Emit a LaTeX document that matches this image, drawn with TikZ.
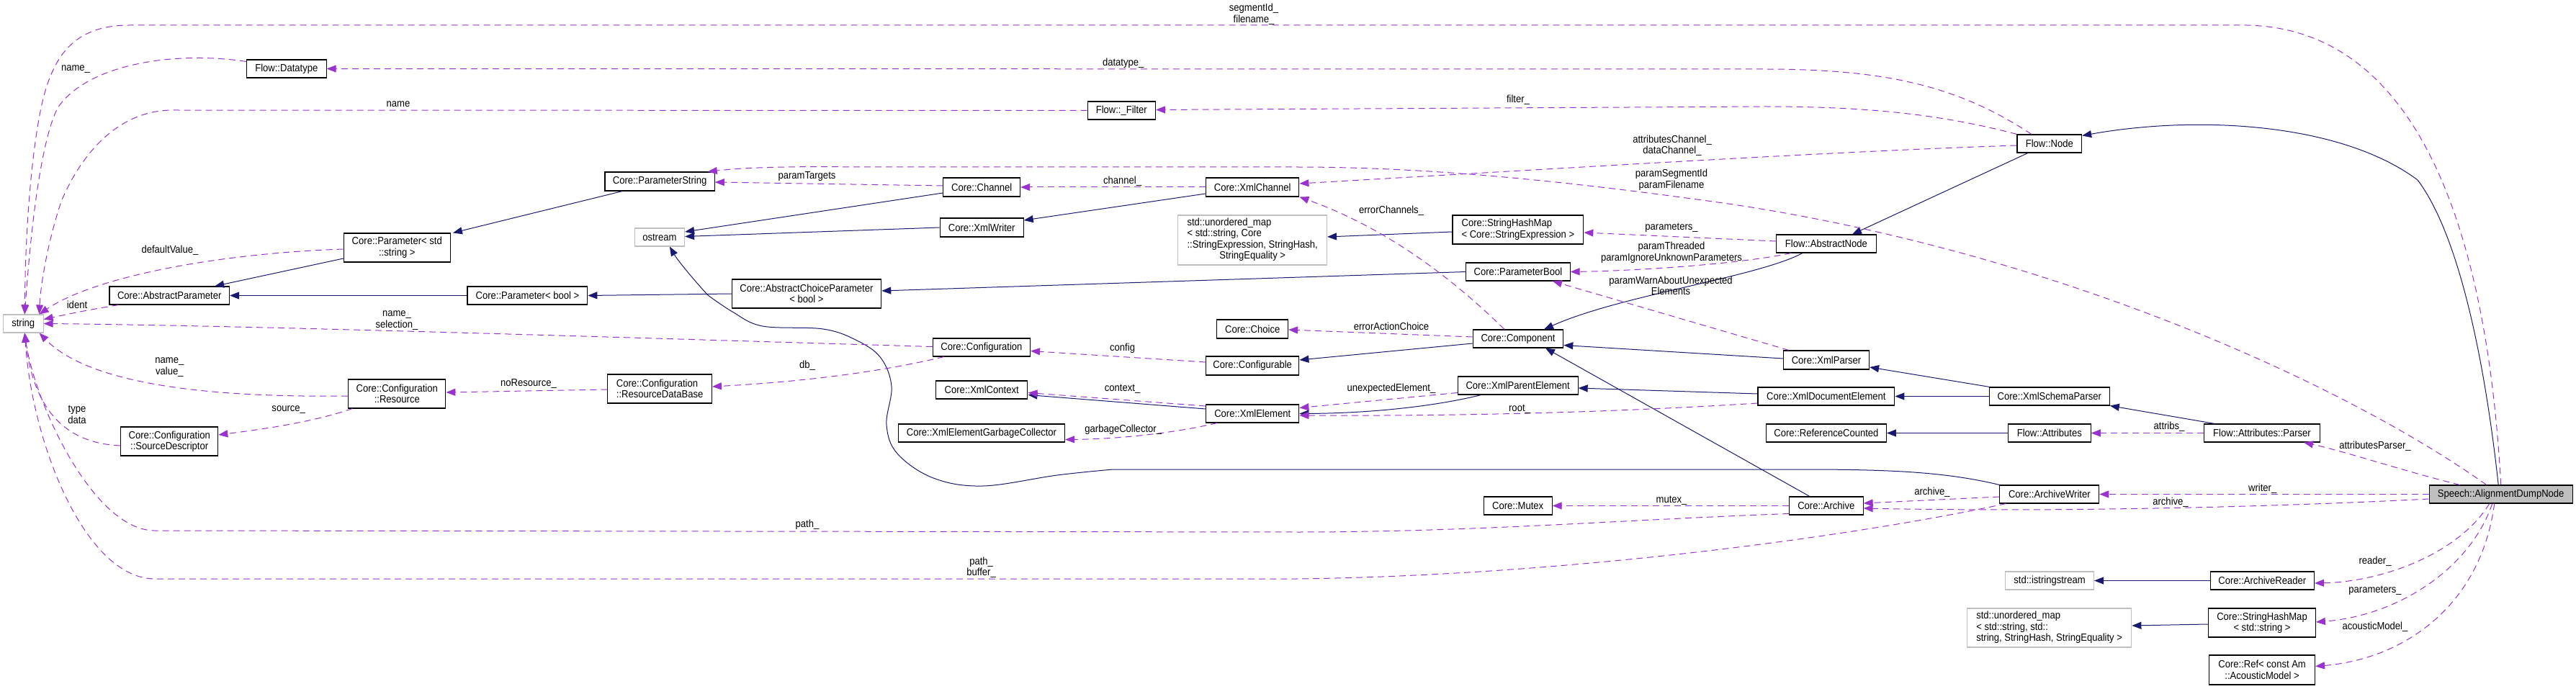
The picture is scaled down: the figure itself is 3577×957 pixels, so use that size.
\documentclass[tikz,border=0pt]{standalone}
\usepackage{fontspec}
\setmainfont{Liberation Sans}[FakeStretch=0.9]
\usetikzlibrary{arrows.meta, calc}
\newcommand\dgfont{\fontsize{14.5pt}{15.5pt}\selectfont}
\definecolor{inhblue}{HTML}{191970}
\definecolor{usepurple}{HTML}{9A32CD}
\definecolor{extgray}{HTML}{BFBFBF}

\begin{document}
\begin{tikzpicture}[x=1pt, y=-1pt,
  box/.style  ={draw=black, line width=1.1pt, rectangle, inner sep=0pt,
                minimum height=25pt, align=center, font=\dgfont},
  gbox/.style ={box, draw=extgray},
  focus/.style={box, fill=extgray},
  inh/.style  ={-{Triangle[length=13pt,width=10pt]}, line width=1pt, color=inhblue},
  dep/.style  ={-{Triangle[length=13pt,width=10pt]}, line width=1pt, color=usepurple,
                dash pattern=on 9pt off 6pt},
  lbl/.style  ={font=\dgfont, inner sep=0pt, align=center, text=black},
]
\useasboundingbox (0,0) rectangle (3577,957);

%% ---- Nodes ----
\node[gbox, minimum width=55.5pt]  (string)     at (32.3,449.5)   {string};
\node[box, minimum width=110.6pt]  (Datatype)   at (397.8,95.5)   {Flow::Datatype};
\node[box, minimum width=166.5pt]  (AbsParam)   at (235.2,410.5)  {Core::AbstractParameter};
\node[box, minimum width=148.1pt, minimum height=40pt] (ParStd) at (551.3,344) {Core::Parameter< std\\::string >};
\node[box, minimum width=152.3pt, minimum height=26pt] (ParString) at (916.1,252) {Core::ParameterString};
\node[gbox, minimum width=69.3pt]  (ostream)    at (915.9,329.5)  {ostream};
\node[box, minimum width=166.8pt]  (ParBool)    at (732.4,410.5)  {Core::Parameter< bool >};
\node[box, minimum width=207.7pt, minimum height=40pt] (AbsChoice) at (1119.9,408) {Core::AbstractChoiceParameter\\< bool >};
\node[box, minimum width=94.5pt]   (Filter)     at (1557.3,153.5) {Flow::\_Filter};
\node[box, minimum width=106.8pt, minimum height=26pt] (Channel)    at (1363.2,260) {Core::Channel};
\node[box, minimum width=129.3pt, minimum height=26pt] (XmlChannel) at (1739.2,260) {Core::XmlChannel};
\node[box, minimum width=116pt,   minimum height=26pt] (XmlWriter)  at (1363.2,316) {Core::XmlWriter};
\node[gbox, minimum width=206.6pt, minimum height=69pt] (umapExpr) at (1739.2,333.5)
  {\begin{tabular}{@{}l@{}}std::unordered\_map\\< std::string, Core\\::StringExpression, StringHash,\\\multicolumn{1}{@{}c@{}}{StringEquality >}\end{tabular}};
\node[box, minimum width=98.7pt, minimum height=26pt] (Choice) at (1739.2,457) {Core::Choice};
\node[box, minimum width=181.8pt, minimum height=40pt, align=left] (StrHashExpr) at (2107.9,319) {Core::StringHashMap\\< Core::StringExpression >};
\node[box, minimum width=144.3pt]  (PBool)      at (2107.9,377.5) {Core::ParameterBool};
\node[box, minimum width=125.5pt]  (Component)  at (2108,470.5)   {Core::Component};
\node[box, minimum width=89.6pt]   (FlowNode)   at (2845.8,199.5) {Flow::Node};
\node[box, minimum width=138.5pt]  (AbsNode)    at (2535.9,338.5) {Flow::AbstractNode};
\node[box, minimum width=135.1pt, minimum height=40pt] (Resource) at (551.3,547) {Core::Configuration\\::Resource};
\node[box, minimum width=135.1pt, minimum height=40pt] (SrcDesc)  at (235.2,613) {Core::Configuration\\::SourceDescriptor};
\node[box, minimum width=144.6pt, minimum height=40pt, align=left] (ResDB) at (916.1,540) {Core::Configuration\\::ResourceDataBase};
\node[box, minimum width=135.1pt]  (Config)     at (1362.9,482.5) {Core::Configuration};
\node[box, minimum width=129.3pt, minimum height=26pt] (Configurable) at (1739.2,508) {Core::Configurable};
\node[box, minimum width=129.3pt]  (XmlElement) at (1739.2,574.5) {Core::XmlElement};
\node[box, minimum width=127.4pt]  (XmlContext) at (1363.2,541.5) {Core::XmlContext};
\node[box, minimum width=231.1pt]  (GarbColl)   at (1363,601.5)   {Core::XmlElementGarbageCollector};
\node[box, minimum width=166.8pt]  (XmlParent)  at (2107.7,535.5) {Core::XmlParentElement};
\node[box, minimum width=94.9pt]   (Mutex)      at (2107.7,702.5) {Core::Mutex};
\node[box, minimum width=119pt, minimum height=26pt] (XmlParser) at (2536,500) {Core::XmlParser};
\node[box, minimum width=189.8pt]  (XmlDocElem) at (2535.9,550.5) {Core::XmlDocumentElement};
\node[box, minimum width=166.9pt]  (XmlSchema)  at (2845.8,550.5) {Core::XmlSchemaParser};
\node[box, minimum width=166.9pt]  (RefCounted) at (2535.9,601.5) {Core::ReferenceCounted};
\node[box, minimum width=114.8pt]  (Attributes) at (2845.8,601.5) {Flow::Attributes};
\node[box, minimum width=137.8pt]  (ArchWriter) at (2845.8,686.5) {Core::ArchiveWriter};
\node[box, minimum width=102.6pt]  (Archive)    at (2535.8,702.5) {Core::Archive};
\node[gbox, minimum width=122.9pt] (isstream)   at (2846,806.5)   {std::istringstream};
\node[gbox, minimum width=228.5pt, minimum height=54pt] (umapStr) at (2845.6,872)
  {\begin{tabular}{@{}l@{}}std::unordered\_map\\< std::string, std::\\string, StringHash, StringEquality >\end{tabular}};
\node[box, minimum width=160.5pt]  (AttrParser) at (3141,601.5)   {Flow::Attributes::Parser};
\node[focus, minimum width=199pt]  (Speech)     at (3472.7,686.5) {Speech::AlignmentDumpNode};
\node[box, minimum width=144.2pt]  (ArchReader) at (3141.3,806.5) {Core::ArchiveReader};
\node[box, minimum width=148.7pt, minimum height=40pt] (StrHashStr) at (3141,865) {Core::StringHashMap\\< std::string >};
\node[box, minimum width=146.8pt, minimum height=41pt] (RefAM) at (3141.1,930.5) {Core::Ref< const Am\\::AcousticModel >};

%% ---- Inheritance ----
\draw[inh] ($(ParStd.west)+(0,15)$) -- ($(AbsParam.north)+(63,0)$);
\draw[inh] (ParBool.west) -- (AbsParam.east);
\draw[inh] ($(ParString.south)+(-52,0)$) -- ($(ParStd.north east)+(3,0)$);
\draw[inh] (AbsChoice.west) -- (ParBool.east);
\draw[inh] (PBool.west) -- ($(AbsChoice.east)+(0,-4)$);
\draw[inh] ($(Channel.west)+(0,8)$) -- ($(ostream.east)+(0,-7.5)$);
\draw[inh] (XmlWriter.west) -- ($(ostream.east)+(0,-1)$);
\draw[inh] ($(XmlChannel.west)+(0,9)$) -- ($(XmlWriter.east)+(0,-10)$);
\draw[inh] ($(StrHashExpr.west)+(0,3)$) -- ($(umapExpr.east)+(0,-4.5)$);
\draw[inh] ($(AbsNode.south)+(-33,0)$) .. controls (2440,385) and (2250,410) .. ($(Component.north)+(36,0)$);
\draw[inh] ($(FlowNode.south)+(-30,0)$) -- ($(AbsNode.north)+(36,0)$);
\draw[inh] ($(Speech.north)+(-3.5,0)$) .. controls (3448,480) and (3410,320) .. (3357,250)
  .. controls (3250,170) and (3050,160) .. ($(FlowNode.north east)+(0,2)$);
\draw[inh] ($(XmlParser.west)+(0,-2)$) -- ($(Component.east)+(0,9)$);
\draw[inh] ($(Component.west)+(0,6.5)$) -- ($(Configurable.east)+(0,-8)$);
\draw[inh] ($(Archive.north)+(-23,0)$) -- ($(Component.south)+(38,0)$);
\draw[inh] ($(XmlElement.west)+(0,-6.5)$) -- ($(XmlContext.east)+(0,7)$);
\draw[inh] ($(XmlParent.south)+(-51,0)$) .. controls (1990,565) and (1900,574) .. (XmlElement.east);
\draw[inh] ($(XmlDocElem.west)+(0,-3.5)$) -- ($(XmlParent.east)+(0,3.5)$);
\draw[inh] ($(XmlSchema.north west)+(1,0)$) -- ($(XmlParser.east)+(0,10)$);
\draw[inh] (XmlSchema.west) -- (XmlDocElem.east);
\draw[inh] ($(AttrParser.north west)+(15,0)$) -- (XmlSchema.south east);
\draw[inh] (Attributes.west) -- (RefCounted.east);
\draw[inh] (ArchWriter.north west) .. controls (2700,655) and (2620,652) .. (2500,652) -- (1545,652)
  -- plot[smooth, tension=0.6] coordinates {(1545,652) (1468,660) (1365,675) (1296,664) (1246,630)
     (1231,590) (1238,537) (1223,497) (1190,473) (1143,457) (1059,453) (1017,433) (983,410)}
  .. controls (960,385) and (940,360) .. ($(ostream.south)+(14,0)$);
\draw[inh] (ArchReader.west) -- (isstream.east);
\draw[inh] ($(StrHashStr.west)+(0,2)$) -- ($(umapStr.east)+(0,-3)$);

%% ---- Usage: Speech::AlignmentDumpNode ----
\draw[dep] (Speech.north) .. controls (3455,350) and (3370,40) .. (3120,35) -- (180,35)
  .. controls (100,35) and (70,80) .. (55,160) .. controls (42,230) and (35,330) .. ($(string.north)+(2,0)$)
  node[lbl] at (1741,19.5) {segmentId\_\\filename\_};
\draw[dep] ($(Speech.north)+(-20,0)$) .. controls (3250,530) and (2850,350) .. (2400,283)
  .. controls (2200,255) and (2000,232) .. (1800,232) -- (1200,232)
  .. controls (1100,231) and (1040,232) .. ($(ParString.north east)+(-10,0)$)
  node[lbl] at (2321,250) {paramSegmentId\\paramFilename};
\draw[dep] ($(Speech.north)+(-57,0)$) .. controls (3340,655) and (3260,628) .. ($(AttrParser.south)+(58,0)$)
  node[lbl] at (3298,620) {attributesParser\_};
\draw[dep] (Speech.west) -- (ArchWriter.east) node[lbl] at (3141.7,679) {writer\_};
\draw[dep] ($(Speech.west)+(0,6.5)$) .. controls (3200,702) and (2900,712) .. ($(Archive.east)+(0,3.5)$)
  node[lbl] at (3014,698) {archive\_};
\draw[dep] ($(Speech.south)+(-16,0)$) .. controls (3415,768) and (3310,808) .. ($(ArchReader.east)+(0,3.5)$)
  node[lbl] at (3298,780) {reader\_};
\draw[dep] ($(Speech.south)+(-12,0)$) .. controls (3430,790) and (3330,855) .. ($(StrHashStr.east)+(0,-1)$)
  node[lbl] at (3298,820) {parameters\_};
\draw[dep] ($(Speech.south)+(-9,0)$) .. controls (3445,840) and (3340,915) .. ($(RefAM.east)+(0,-5)$)
  node[lbl] at (3298,871) {acousticModel\_};

%% ---- Usage: Flow ----
\draw[dep] (AttrParser.west) -- (Attributes.east) node[lbl] at (3012,593) {attribs\_};
\draw[dep] ($(FlowNode.west)+(0,2.5)$) .. controls (2550,210) and (2150,235) .. ($(XmlChannel.east)+(0,-5)$)
  node[lbl] at (2322,202) {attributesChannel\_\\dataChannel\_};
\draw[dep] (FlowNode.north west) .. controls (2700,160) and (2600,148) .. (2450,148) -- ($(Filter.east)+(0,-1)$)
  node[lbl] at (2108,139) {filter\_};
\draw[dep] ($(FlowNode.north)+(-25,0)$) .. controls (2720,120) and (2620,96) .. (2450,96) -- (Datatype.east)
  node[lbl] at (1559.7,88) {datatype\_};
\draw[dep] ($(AbsNode.west)+(0,-3.5)$) -- ($(StrHashExpr.east)+(0,4)$) node[lbl] at (2321,316) {parameters\_};
\draw[dep] ($(AbsNode.south west)+(21,0)$) .. controls (2420,366) and (2280,376) .. (PBool.east)
  node[lbl] at (2321,351) {paramThreaded\\paramIgnoreUnknownParameters};

%% ---- Usage: Core ----
\draw[dep] ($(XmlParser.north west)+(8,0)$) -- ($(PBool.south)+(48,0)$)
  node[lbl] at (2320,397) {paramWarnAboutUnexpected\\Elements};
\draw[dep] ($(Component.north)+(-19,0)$) .. controls (2010,380) and (1920,315) .. (XmlChannel.south east)
  node[lbl] at (1932,293) {errorChannels\_};
\draw[dep] ($(Component.west)+(0,-2.5)$) -- ($(Choice.east)+(0,1)$) node[lbl] at (1932,453) {errorActionChoice};
\draw[dep] (XmlChannel.west) -- (Channel.east) node[lbl] at (1558.6,252) {channel\_};
\draw[dep] ($(Channel.west)+(0,-2)$) -- ($(ParString.east)+(0,1)$) node[lbl] at (1120.5,245) {paramTargets};
\draw[dep] ($(XmlElement.west)+(0,-10.5)$) -- ($(XmlContext.east)+(0,4)$) node[lbl] at (1558.6,540) {context\_};
\draw[dep] ($(XmlElement.south west)+(16,0)$) .. controls (1620,604) and (1540,610) .. ($(GarbColl.east)+(0,9)$)
  node[lbl] at (1559.7,597) {garbageCollector\_};
\draw[dep] ($(XmlParent.west)+(0,10)$) -- ($(XmlElement.east)+(0,-8)$) node[lbl] at (1932,540) {unexpectedElement\_};
\draw[dep] ($(XmlDocElem.west)+(0,9.5)$) .. controls (2250,572) and (2050,578) .. ($(XmlElement.east)+(0,2.5)$)
  node[lbl] at (2110,568) {root\_};
\draw[dep] ($(Configurable.west)+(0,-5)$) -- ($(Config.east)+(0,5)$) node[lbl] at (1558.6,484) {config};
\draw[dep] ($(Config.south west)+(16,0)$) .. controls (1200,522) and (1080,532) .. ($(ResDB.east)+(0,-3)$)
  node[lbl] at (1121,508) {db\_};
\draw[dep] ($(Config.west)+(0,-1)$) .. controls (900,470) and (350,452) .. (string.east)
  node[lbl] at (551,445) {name\_\\selection\_};
\draw[dep] ($(ResDB.west)+(0,1)$) -- ($(Resource.east)+(0,-2)$) node[lbl] at (734,533) {noResource\_};
\draw[dep] ($(Resource.south west)+(6,0)$) .. controls (430,588) and (350,598) .. ($(SrcDesc.east)+(0,-9)$)
  node[lbl] at (400.7,569) {source\_};
\draw[dep] ($(SrcDesc.west)+(0,6)$) .. controls (100,616) and (48,580) .. ($(string.south)+(2,0)$)
  node[lbl] at (107,576) {type\\data};
\draw[dep] ($(Resource.west)+(0,3)$) .. controls (320,552) and (130,540) .. ($(string.south east)+(-6,0)$)
  node[lbl] at (235.4,510) {name\_\\value\_};
\draw[dep] (ArchWriter.west |- 0,690) -- ($(Archive.east)+(0,-3.5)$) node[lbl] at (2683,684) {archive\_};
\draw[dep] (Archive.west) -- (Mutex.east) node[lbl] at (2321,695) {mutex\_};
\draw[dep] ($(Archive.west)+(0,11)$) .. controls (2250,722) and (2050,739) .. (1800,739) -- (215,737)
  .. controls (130,737) and (48,560) .. ($(string.south)+(2,0)$) node[lbl] at (1121,729) {path\_};
\draw[dep] ($(ArchWriter.south west)+(9,0)$) .. controls (2550,750) and (2150,800) .. (1800,804) -- (215,804)
  .. controls (120,804) and (45,620) .. ($(string.south)+(2,0)$) node[lbl] at (1362.6,788) {path\_\\buffer\_};

%% ---- Usage: string members ----
\draw[dep] ($(Datatype.west)+(0,-10)$) .. controls (240,70) and (120,90) .. (80,150)
  .. controls (55,200) and (42,330) .. ($(string.north)+(2,0)$) node[lbl] at (105,96) {name\_};
\draw[dep] (Filter.west) -- (240,153) .. controls (160,153) and (110,220) .. (85,280)
  .. controls (65,340) and (56,400) .. ($(string.north east)+(-6,0)$) node[lbl] at (553,145) {name};
\draw[dep] ($(ParStd.west)+(0,2)$) .. controls (300,352) and (130,385) .. ($(string.north east)+(-6,0)$)
  node[lbl] at (236,348) {defaultValue\_};
\draw[dep] ($(AbsParam.south west)+(13,0)$) .. controls (115,432) .. ($(string.east)+(0,-6)$)
  node[lbl] at (107,423) {ident};

\end{tikzpicture}
\end{document}
